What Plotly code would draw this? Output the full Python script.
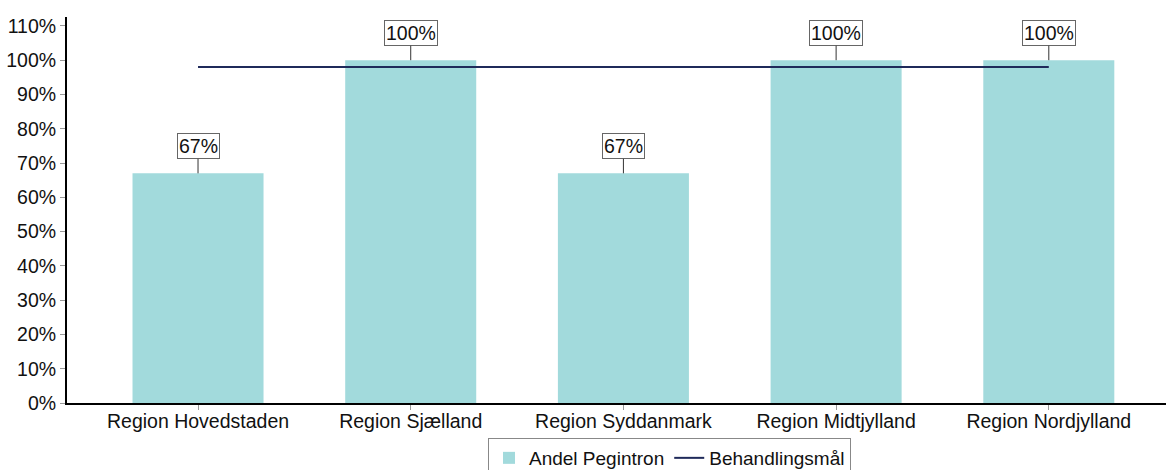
import plotly.graph_objects as go

regions = ["Region Hovedstaden", "Region Sjælland", "Region Syddanmark",
           "Region Midtjylland", "Region Nordjylland"]
andel_pegintron = [67, 100, 67, 100, 100]
behandlingsmaal = [98, 98, 98, 98, 98]
y_ticks = list(range(0, 111, 10))

font = dict(family="Liberation Sans, Arial, sans-serif", size=19.5, color="#111111")
legend_font = dict(font, size=19)

fig = go.Figure()
fig.add_trace(go.Bar(
    x=regions, y=andel_pegintron, name="Andel Pegintron",
    marker=dict(color="#a2dadc", line=dict(width=0)),
    width=0.616,
))
fig.add_trace(go.Scatter(
    x=regions, y=behandlingsmaal, name="Behandlingsmål",
    mode="lines", line=dict(color="#1f2a5a", width=2),
))

for r, v in zip(regions, andel_pegintron):
    fig.add_annotation(
        x=r, y=v, text=f"{v}%", showarrow=True, arrowhead=0,
        arrowwidth=1, arrowcolor="#333333", ax=0, ay=-27,
        bordercolor="#666666", borderwidth=1, borderpad=1,
        bgcolor="white", font=font,
    )

fig.update_layout(
    width=1166, height=470,
    margin=dict(l=67, r=0, t=17, b=67, autoexpand=False),
    plot_bgcolor="white", paper_bgcolor="white",
    font=font,
    showlegend=True,
    legend=dict(orientation="h", x=488 / 1166, xanchor="left", xref="container",
                y=1 - 438 / 470, yanchor="top", yref="container",
                bordercolor="#888888", borderwidth=1,
                font=legend_font, itemwidth=30, tracegroupgap=0),
    xaxis=dict(
        range=[-0.616, 4.551], showline=True, linecolor="black", linewidth=2,
        ticks="outside", ticklen=5, tickcolor="#999999", showgrid=False,
        tickfont=font, ticklabelstandoff=-5,
    ),
    yaxis=dict(
        range=[0, 112.6], tickvals=y_ticks,
        ticktext=[f"{t}%" for t in y_ticks],
        showline=True, linecolor="black", linewidth=2,
        ticks="outside", ticklen=5, tickcolor="#999999", showgrid=False,
        zeroline=False, tickfont=font,
    ),
)

fig.write_html("out.html")
